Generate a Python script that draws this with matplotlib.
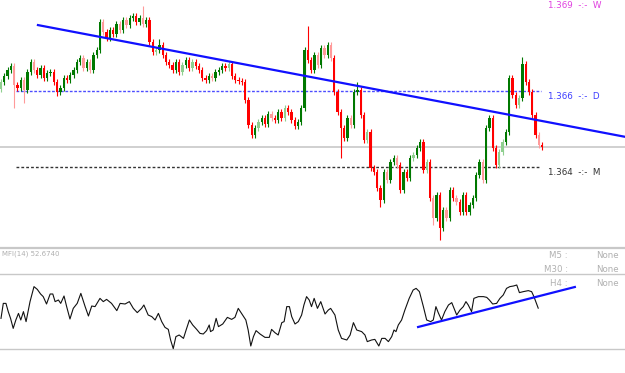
import numpy as np
import matplotlib.pyplot as plt
from matplotlib.lines import Line2D

# EURUSD-like intraday chart, prices stored as pips above 1.3600
close_pips = [
    62.4, 64.0, 65.6, 66.6, 61.6, 60.8, 62.9, 60.3, 65.1, 67.7,
    65.6, 64.3, 66.1, 63.5, 64.8, 65.1, 62.4, 59.8, 60.8, 63.5,
    62.9, 64.3, 65.6, 67.7, 68.7, 66.1, 67.7, 65.6, 69.5, 70.8,
    78.2, 75.6, 74.0, 76.1, 75.1, 77.7, 76.1, 78.7, 77.4, 79.3,
    79.8, 78.2, 79.3, 77.7, 78.7, 72.9, 70.3, 70.8, 72.2, 69.5,
    67.7, 66.9, 65.6, 67.7, 65.1, 66.9, 68.2, 66.1, 67.7, 66.6,
    65.6, 63.5, 62.9, 64.0, 63.5, 65.1, 65.6, 66.6, 66.1, 67.2,
    64.0, 62.9, 62.7, 62.4, 57.7, 51.1, 48.5, 50.3, 51.9, 52.9,
    51.4, 54.0, 52.9, 52.4, 54.5, 52.9, 55.6, 54.5, 52.4, 50.8,
    51.9, 55.6, 70.8, 68.2, 65.6, 69.5, 66.9, 71.4, 69.5, 72.2,
    68.7, 59.8, 54.5, 50.3, 47.7, 52.9, 51.1, 59.8, 60.3, 53.7,
    47.2, 49.3, 39.8, 38.7, 34.5, 31.4, 38.7, 36.6, 41.4, 42.4,
    40.6, 34.0, 38.7, 37.2, 42.4, 43.2, 45.1, 46.6, 39.3, 41.4,
    31.9, 26.6, 32.7, 24.0, 28.7, 26.6, 34.0, 31.9, 30.8, 28.2,
    32.7, 28.2, 30.1, 31.9, 37.9, 41.4, 36.6, 50.3, 52.9, 45.1,
    40.6, 44.0, 46.6, 49.3, 63.5, 59.0, 56.4, 58.2, 67.2, 62.4,
    59.8, 53.7, 48.5, 45.8, 45.3,
]
first_open_pips = 60.5

# long wicks (bar index: pips)
high_pips = {43: 82.4, 48: 73.7, 93: 77.2, 108: 62.4, 158: 69.0}
low_pips = {4: 55.6, 7: 56.9, 17: 58.7, 103: 42.4, 115: 29.5, 131: 24.8, 133: 20.8}

faded = [0, 4, 7, 10, 25, 27, 31, 36, 38, 43, 47, 55, 58, 64, 69, 78, 82, 86,
         96, 98, 100, 106, 111, 117, 120, 125, 129, 131, 135, 138, 146, 151,
         152, 157, 163]

level_w = 1.369
level_d = 1.366
level_m = 1.364

# trendline on price (bar index, price)
trend_bars = [11.2, 189.1]
trend_price = [1.36774, 1.36480]

# MFI(14), bar positions and values
mfi_bar = [0, 0.7, 1.5, 2.2, 2.9, 3.7, 4.5, 5.3, 6.0, 6.8, 7.6, 8.8, 10.0, 11.0,
           12.0, 12.8, 13.8, 14.9, 15.7, 16.4, 17.4, 18.1, 19.1, 19.9, 20.9,
           21.9, 23.1, 24.2, 25.5, 26.5, 27.5, 28.5, 30.0, 31.0, 32.0, 33.5,
           35.1, 36.1, 37.6, 38.9, 40.1, 41.3, 42.6, 43.3, 44.6, 45.7, 46.7,
           47.7, 48.7, 49.7, 50.7, 51.4, 52.2, 53.0, 54.0, 55.3, 56.1, 57.1,
           58.1, 59.3, 60.3, 61.3, 62.3, 63.1, 63.5, 64.3, 65.2, 65.9, 67.2,
           68.6, 69.9, 70.9, 71.9, 72.9, 74.2, 74.9, 75.7, 76.5, 77.3, 78.5,
           80.0, 81.3, 82.0, 83.0, 84.0, 85.1, 85.8, 86.6, 87.4, 88.1, 89.1,
           90.1, 91.1, 91.8, 92.6, 93.4, 94.1, 94.9, 95.9, 96.9, 98.2, 99.2,
           99.9, 101.2, 102.2, 103.2, 104.8, 105.8, 106.8, 107.8, 109.3, 110.3,
           111.0, 112.3, 113.3, 114.5, 115.4, 116.4, 117.4, 118.4, 119.1,
           119.7, 120.4, 121.4, 122.4, 123.7, 124.9, 125.8, 126.8, 128.0,
           129.0, 130.2, 131.0, 131.8, 132.5, 133.5, 134.5, 135.6, 136.6,
           137.3, 138.1, 139.1, 140.1, 140.9, 141.6, 142.6, 143.3, 144.7,
           146.2, 147.2, 148.0, 149.0, 150.2, 151.2, 152.2, 153.2, 154.2,
           155.3, 156.3, 157.1, 158.3, 159.8, 160.8, 161.5, 162.8]
mfi_val = [44.5, 56.5, 56.5, 49.9, 44.5, 36.5, 43.2, 48.5, 43.2, 49.9, 41.9,
           57.9, 69.9, 67.7, 64.0, 61.9, 56.0, 64.0, 64.0, 57.9, 59.2, 56.5,
           62.4, 53.9, 44.0, 52.5, 56.5, 64.5, 53.9, 46.4, 54.4, 53.9, 60.5,
           57.9, 59.7, 56.5, 50.7, 56.5, 56.0, 57.9, 52.5, 49.1, 52.5, 55.2,
           47.2, 45.9, 43.2, 48.5, 41.9, 37.3, 35.7, 27.2, 20.3, 29.9, 31.2,
           28.5, 35.2, 43.2, 39.2, 35.7, 32.5, 32.0, 34.7, 39.2, 33.9, 35.2,
           44.5, 37.9, 40.0, 45.3, 43.7, 45.3, 52.5, 48.5, 43.2, 35.2, 22.4,
           29.9, 34.7, 32.0, 29.3, 29.3, 35.7, 33.1, 31.2, 41.1, 41.9, 53.9,
           53.9, 45.9, 40.0, 41.9, 47.2, 55.2, 61.9, 59.2, 53.9, 60.5, 52.5,
           57.9, 48.0, 51.2, 52.5, 47.2, 35.2, 28.5, 27.2, 31.2, 41.1, 35.2,
           33.9, 31.2, 25.9, 27.2, 27.7, 22.4, 28.5, 28.5, 25.9, 29.9, 35.2,
           33.9, 39.2, 43.2, 51.2, 60.5, 67.2, 68.5, 65.9, 53.9, 43.2, 41.9,
           43.2, 53.9, 49.1, 43.2, 49.9, 55.2, 57.1, 52.5, 47.2, 51.2, 53.9,
           57.9, 55.2, 49.9, 60.5, 61.9, 61.9, 61.3, 59.2, 56.0, 56.5, 60.5,
           63.2, 68.5, 69.9, 70.4, 71.2, 65.1, 65.9, 66.7, 65.9, 61.9, 52.674]
mfi_trend_bars = [126.4, 173.9]
mfi_trend_val = [37.6, 69.6]

# ---------------------------------------------------------------------------
close = 1.36 + np.array(close_pips) / 10000
opn = np.concatenate([[1.36 + first_open_pips / 10000], close[:-1]])
n = len(close)
idx = np.arange(n)
high = np.maximum(opn, close) + 0.00008
low = np.minimum(opn, close) - 0.00008
for k, v in high_pips.items():
    high[k] = 1.36 + v / 10000
for k, v in low_pips.items():
    low[k] = 1.36 + v / 10000

W, H = 625, 373
fig = plt.figure(figsize=(W / 100, H / 100), dpi=100)
fig.patch.set_facecolor('white')

ax = fig.add_axes([0, 1 - 247 / H, 1, 247 / H])
ax.set_xlim(-0.3, 189.1)
ax.set_ylim(1.3619, 1.3684)
ax.axis('off')

# current price line
ax.axhline(close[-1], color='#c8c8c8', lw=1.2, zorder=1)

up = close >= opn
colors = []
for i in range(n):
    if up[i]:
        colors.append('#8fcf8f' if i in faded else '#007800')
    else:
        colors.append('#ff9a9a' if i in faded else '#ff0000')

ax.vlines(idx, low, high, colors=colors, lw=0.8, zorder=3)
body_bottom = np.minimum(opn, close)
body_h = np.maximum(np.abs(close - opn), 0.00003)
ax.bar(idx, body_h, bottom=body_bottom, width=0.7, color=colors,
       edgecolor='none', zorder=4)

ax.hlines(level_d, 4.5, 163.5, colors='#4d4dff', lw=1,
          linestyles=(0, (2, 1.2)), zorder=2)
ax.hlines(level_m, 4.5, 163.5, colors='#333333', lw=1,
          linestyles=(0, (2, 1.5)), zorder=2)

ax.plot(trend_bars, trend_price, color='#1010ff', lw=1.6, zorder=5)

ax.text(165.8, 1.36585, '1.366  -:-  D', color='#3c3cff', fontsize=6.3,
        va='center', ha='left')
ax.text(165.8, 1.36387, '1.364  -:-  M', color='#333333', fontsize=6.3,
        va='center', ha='left')
ax.text(165.8, 1.36838, '1.369  -:-  W', color='#e040e0', fontsize=6.3,
        va='top', ha='left')

# panel separator
fig.add_artist(Line2D([0, 1], [1 - 247.5 / H] * 2, color='#c8c8c8', lw=1.6))

# MFI panel
ax2 = fig.add_axes([0, 0, 1, 125 / H])
ax2.set_xlim(-0.3, 189.1)
ax2.set_ylim(0.8, 100.8)
ax2.axis('off')
ax2.axhline(80, color='#c8c8c8', lw=1)
ax2.axhline(20, color='#c8c8c8', lw=1)
ax2.plot(mfi_bar, mfi_val, color='#111111', lw=0.8)
ax2.plot(mfi_trend_bars, mfi_trend_val, color='#1010ff', lw=1.6)

fig.text(2 / W, 1 - 254 / H, 'MFI(14) 52.6740', color='#b0b0b0', fontsize=5,
         va='center', ha='left')
for lab, yy in [('M5 :', 256), ('M30 :', 269), ('H4 :', 283)]:
    fig.text(568 / W, 1 - yy / H, lab, color='#b0b0b0', fontsize=6.2,
             va='center', ha='right')
    fig.text(619 / W, 1 - yy / H, 'None', color='#b0b0b0', fontsize=6.2,
             va='center', ha='right')

fig.savefig('out.png', dpi=100, facecolor='white')
